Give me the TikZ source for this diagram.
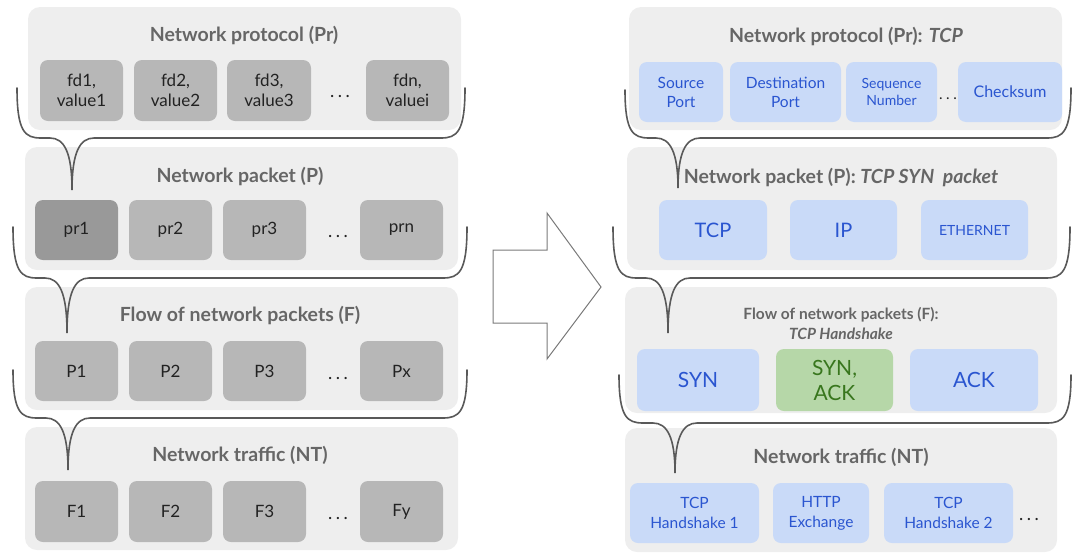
\documentclass[tikz,border=0pt]{standalone}
\usepackage{fontspec}
\setmainfont{Lato}

\definecolor{panelfill}{HTML}{EEEEEE}
\definecolor{cellgray}{HTML}{B7B7B7}
\definecolor{cellgraydark}{HTML}{999999}
\definecolor{celltext}{HTML}{222222}
\definecolor{titletext}{HTML}{666666}
\definecolor{cellblue}{HTML}{C9DAF8}
\definecolor{bluetext}{HTML}{2A55D0}
\definecolor{cellgreen}{HTML}{B6D7A8}
\definecolor{greentext}{HTML}{38761D}
\definecolor{bracecol}{HTML}{595959}
\definecolor{arrowcol}{HTML}{7A7A7A}

\tikzset{
  panel/.style={fill=panelfill, rounded corners=12pt, inner sep=0pt},
  graycell/.style={fill=cellgray, rounded corners=8pt, inner sep=0pt, align=center,
    text=celltext, font=\fontsize{17}{20}\selectfont},
  darkcell/.style={graycell, fill=cellgraydark},
  bluecell/.style={fill=cellblue, rounded corners=8pt, inner sep=0pt, align=center, text=bluetext},
  greencell/.style={bluecell, fill=cellgreen, text=greentext},
  title/.style={text=titletext, font=\bfseries\fontsize{19.5}{22}\selectfont, inner sep=0pt, align=center},
  ellip/.style={text=celltext, font=\fontsize{18}{20}\selectfont, inner sep=0pt},
  bracket/.style={draw=bracecol, line width=1.6pt, line cap=round},
  bigarrow/.style={draw=arrowcol, line width=1pt, line join=miter}
}

% spaced ellipsis
\newcommand\spdots{.\kern3.5pt.\kern3.5pt.}

% rectangle node given by its corners: style, name, x1, y1, x2, y2, text
\newcommand\cell[7]{%
  \node[#1, minimum width={#5-#3}, minimum height={#6-#4}] (#2)
    at ({(#3+#5)/2},{(#4+#6)/2}) {#7};}

% horizontal curly bracket with a downward tip:
% left end, right end, level of the bar, tip
\newcommand\curlybracket[7]{%
  \draw[bracket] (#1,#2)
    .. controls (#1,{#5-6}) and ({#1+8},#5) .. ({#1+24},#5)
    -- ({#6-22},#5)
    .. controls ({#6-8},#5) and (#6,{#5+14}) .. (#6,#7)
    .. controls (#6,{#5+14}) and ({#6+8},#5) .. ({#6+22},#5)
    -- ({#3-24},#5)
    .. controls ({#3-8},#5) and (#3,{#5-6}) .. (#3,#4);}

\begin{document}
\begin{tikzpicture}[x=1pt, y=-1pt]
\useasboundingbox (0,0) rectangle (1073,555);

% ---------- generic layers ----------
\cell{panel}{lpr}{28}{7}{461}{130}{}
\cell{panel}{lp}{25}{147}{458}{270}{}
\cell{panel}{lf}{25}{287}{458}{410}{}
\cell{panel}{lnt}{25}{427}{458}{550}{}

\node[title] (lprT) at (244,35) {Network protocol (Pr)};
\node[title] (lpT) at (240,176) {Network packet (P)};
\node[title] (lfT) at (240,315) {Flow of network packets (F)};
\node[title] (lntT) at (240,455) {Network traffic (NT)};

\cell{graycell}{fd1}{40}{60}{123}{121}{fd1,\\value1}
\cell{graycell}{fd2}{134}{60}{217}{121}{fd2,\\value2}
\cell{graycell}{fd3}{227}{60}{311}{121}{fd3,\\value3}
\node[ellip] (fddots) at (340,97) {\spdots};
\cell{graycell}{fdn}{366}{60}{449}{121}{fdn,\\valuei}

\cell{darkcell}{pr1}{35}{200}{118}{260}{pr1}
\cell{graycell}{pr2}{129}{200}{212}{260}{pr2}
\cell{graycell}{pr3}{223}{200}{306}{260}{pr3}
\node[ellip] (prdots) at (338,236) {\spdots};
\cell{graycell}{prn}{360}{200}{443}{260}{prn}

\cell{graycell}{P1}{35}{341}{118}{401}{P1}
\cell{graycell}{P2}{129}{341}{212}{401}{P2}
\cell{graycell}{P3}{223}{341}{306}{401}{P3}
\node[ellip] (Pdots) at (338,378) {\spdots};
\cell{graycell}{Px}{360}{341}{443}{401}{Px}

\cell{graycell}{F1}{35}{481}{118}{542}{F1}
\cell{graycell}{F2}{129}{481}{212}{542}{F2}
\cell{graycell}{F3}{223}{481}{306}{542}{F3}
\node[ellip] (Fdots) at (338,518) {\spdots};
\cell{graycell}{Fy}{360}{481}{443}{542}{Fy}

\curlybracket{17}{88}{465}{88}{138}{72}{190}
\curlybracket{13}{227}{467}{227}{278}{67}{333}
\curlybracket{13}{370}{467}{370}{418}{68}{470}

% ---------- arrow ----------
\draw[bigarrow] (493,250) -- (547,250) -- (547,213) -- (601,287)
  -- (547,359) -- (547,323) -- (493,323) -- cycle;

% ---------- TCP example ----------
\cell{panel}{rpr}{629}{7}{1062}{130}{}
\cell{panel}{rp}{627}{147}{1057}{270}{}
\cell{panel}{rf}{625}{287}{1057}{413}{}
\cell{panel}{rnt}{625}{428}{1057}{552}{}

\node[title] (rprT) at (846,36) {Network protocol (Pr): \textit{TCP}};
\node[title] (rpT) at (841,177) {Network packet (P): \textit{TCP SYN\ \ packet}};
\node[title, font=\bfseries\fontsize{15.5}{20}\selectfont] (rfT) at (841,323)
  {Flow of network packets (F):\\\textit{TCP Handshake}};
\node[title] (rntT) at (841,457) {Network traffic (NT)};

\cell{bluecell, font=\fontsize{15.5}{19}\selectfont}{srcport}{639}{62}{723}{122}{Source\\Port}
\cell{bluecell, font=\fontsize{15.5}{19}\selectfont}{dstport}{730}{62}{841}{122}{Destination\\Port}
\cell{bluecell, font=\fontsize{14}{17}\selectfont}{seqnum}{846}{62}{937}{122}{Sequence\\Number}
\node[ellip, font=\fontsize{15}{18}\selectfont] (tcpdots) at (948,99) {\spdots};
\cell{bluecell, font=\fontsize{16}{19}\selectfont}{checksum}{958}{62}{1062}{122}{Checksum}

\cell{bluecell, font=\fontsize{20}{24}\selectfont}{tcp}{659}{200}{767}{260}{TCP}
\cell{bluecell, font=\fontsize{20}{24}\selectfont}{ip}{790}{200}{897}{260}{IP}
\cell{bluecell, font=\fontsize{14}{17}\selectfont}{eth}{921}{200}{1028}{260}{ETHERNET}

\cell{bluecell, font=\fontsize{21}{25}\selectfont}{syn}{637}{349}{759}{411}{SYN}
\cell{greencell, font=\fontsize{21}{25}\selectfont}{synack}{776}{349}{893}{411}{SYN,\\ACK}
\cell{bluecell, font=\fontsize{21}{25}\selectfont}{ack}{910}{349}{1038}{411}{ACK}

\cell{bluecell, font=\fontsize{15.5}{20}\selectfont}{hs1}{630}{483}{759}{543}{TCP\\Handshake 1}
\cell{bluecell, font=\fontsize{15.5}{20}\selectfont}{http}{773}{483}{869}{543}{HTTP\\Exchange}
\cell{bluecell, font=\fontsize{15.5}{20}\selectfont}{hs2}{884}{483}{1013}{543}{TCP\\Handshake 2}
\node[ellip] (ntdots) at (1029,519) {\spdots};

\curlybracket{625}{90}{1071}{88}{138}{678}{188}
\curlybracket{613}{227}{1070}{227}{278}{668}{333}
\curlybracket{619}{375}{1071}{375}{423}{675}{473}
\end{tikzpicture}
\end{document}
